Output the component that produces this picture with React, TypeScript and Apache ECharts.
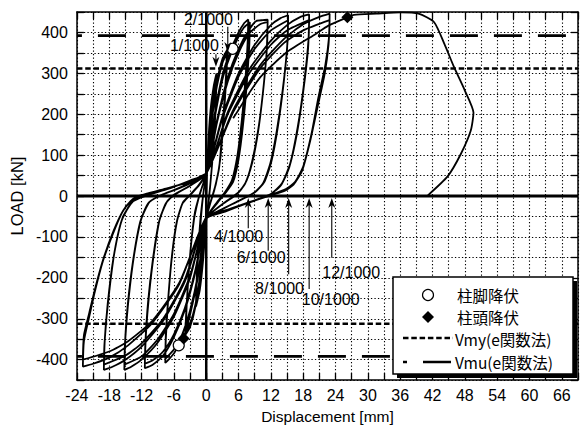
import React, { useEffect, useRef } from "react";
import * as echarts from "echarts";

// Axis ranges (mm, kN)
const X_MIN = -24;
const X_MAX = 69;
const Y_MIN = -450;
const Y_MAX = 450;

// Reference strengths
const vmy = 312;
const vmu = 392;

// Hysteresis cycles [displacement mm, load kN]
const cycle1_1000: number[][] = [
  [0, 0], [0.3, 110], [0.8, 210], [1.4, 270], [1.9, 300], [1.8, 240], [1.3, 120], [0.7, 20], [0, -60],
  [-0.6, -160], [-1.2, -230], [-1.9, -270], [-1.8, -210], [-1.2, -90], [-0.6, 0], [0, 55],
  [0.7, 180], [1.4, 260], [1.9, 290], [1.7, 200], [1.1, 80], [0.4, -20], [0, -55],
  [-0.7, -170], [-1.4, -240], [-1.9, -265], [-1.7, -180], [-1.1, -60], [-0.5, 10], [0, 55],
];
const cycle2_1000: number[][] = [
  [1, 190], [2, 280], [3, 335], [3.9, 358], [3.8, 310], [3.3, 200], [2.6, 90], [1.8, 30], [0.9, -10], [0, -55],
  [-1, -185], [-2, -270], [-3, -320], [-3.9, -340], [-3.7, -280], [-3.1, -160], [-2.3, -60], [-1.5, -10], [-0.7, 25], [0, 55],
  [1, 180], [2, 270], [3, 325], [3.8, 348], [3.7, 300], [3.1, 180], [2.4, 70], [1.5, 15], [0.7, -20], [0, -55],
  [-1, -180], [-2, -265], [-3, -312], [-3.8, -332], [-3.6, -260], [-2.9, -130], [-2.1, -40], [-1.2, 5], [0, 55],
];
const cycle4_1000: number[][] = [
  [1.5, 195], [3, 295], [4.5, 355], [6, 400], [7, 422], [7.8, 432], [7.7, 380], [7.3, 290], [6.6, 185], [5.8, 100],
  [4.8, 40], [3.5, 10], [2, -15], [0, -55], [-1.5, -195], [-3, -290], [-4.2, -345], [-5.1, -365], [-6, -385],
  [-7, -400], [-7.6, -408], [-7.5, -350], [-7.1, -260], [-6.4, -150], [-5.5, -65], [-4.4, -18], [-3, 3], [-1.5, 25], [0, 55],
  [1.5, 185], [3, 285], [4.5, 345], [6, 390], [7, 412], [8.1, 425], [8, 370], [7.5, 270], [6.8, 170], [6, 90],
  [5, 35], [3.6, 8], [2, -18], [0, -55], [-1.5, -190], [-3, -280], [-4.5, -340], [-6, -375], [-7.6, -398],
  [-7.5, -340], [-7, -240], [-6.3, -140], [-5.4, -60], [-4.3, -15], [-2.8, 5], [-1.4, 25], [0, 55],
];
const cycle6_1000: number[][] = [
  [2, 185], [4, 290], [6, 360], [8, 408], [9.3, 428], [10.5, 430], [11.4, 431], [11.3, 370], [10.7, 275], [9.8, 175],
  [8.7, 95], [7.5, 38], [6.1, 10], [4, -10], [2, -30], [0, -55], [-2, -185], [-4, -280], [-6, -345], [-8, -390],
  [-10, -413], [-11.4, -421], [-11.3, -360], [-10.8, -260], [-9.9, -155], [-8.8, -65], [-7.5, -18], [-6, 3], [-3, 25], [0, 55],
  [2, 180], [4, 280], [6, 350], [8, 398], [10, 420], [11.4, 425], [11.2, 350], [10.5, 250], [9.6, 155], [8.5, 80],
  [7.2, 30], [5.7, 5], [3, -20], [0, -55], [-2, -180], [-4, -275], [-6, -338], [-8, -380], [-10, -402], [-11.4, -410],
  [-11.2, -340], [-10.6, -240], [-9.7, -140], [-8.6, -55], [-7.2, -12], [-5.6, 5], [-2.8, 27], [0, 55],
];
const cycle8_1000: number[][] = [
  [3, 195], [6, 300], [9, 370], [12, 418], [13.8, 435], [15.2, 442], [15.1, 380], [14.4, 280], [13.3, 170], [12.1, 85],
  [10.8, 35], [9.1, 10], [6, -12], [3, -32], [0, -55], [-3, -200], [-6, -295], [-9, -358], [-12, -400], [-14, -418],
  [-15.2, -425], [-15.1, -365], [-14.6, -270], [-13.6, -160], [-12.3, -65], [-10.8, -18], [-8.7, 0], [-5, 20], [-2, 40], [0, 55],
  [3, 190], [6, 292], [9, 360], [12, 405], [15.2, 430], [15, 360], [14.2, 260], [13.1, 160], [11.9, 80], [10.5, 30],
  [8.7, 6], [5.5, -15], [2.5, -35], [0, -55], [-3, -195], [-6, -288], [-9, -350], [-12, -392], [-15.2, -412],
  [-15, -345], [-14.4, -250], [-13.4, -145], [-12.1, -58], [-10.5, -14], [-8.4, 2], [-4.5, 22], [0, 55],
];
const cycle10_1000: number[][] = [
  [4, 205], [8, 310], [12, 380], [15, 418], [17.5, 438], [19.1, 444], [19, 385], [18.2, 280], [17, 170], [15.6, 80],
  [14, 30], [12, 5], [8, -15], [4, -35], [0, -55], [-4, -210], [-8, -305], [-12, -368], [-15, -400], [-17.5, -418],
  [-19, -425], [-18.9, -365], [-18.3, -265], [-17.2, -150], [-15.7, -60], [-13.8, -15], [-11.4, 0], [-7, 18], [-3, 38], [0, 55],
  [4, 200], [8, 300], [12, 370], [15, 405], [19.1, 430], [18.9, 360], [18, 255], [16.8, 150], [15.4, 70], [13.8, 25],
  [11.6, 2], [7.5, -18], [3.5, -38], [0, -55], [-4, -205], [-8, -300], [-12, -360], [-15, -390], [-19, -412],
  [-18.8, -345], [-18.1, -245], [-17, -135], [-15.5, -52], [-13.5, -12], [-11, 2], [-6.5, 20], [-3, 38], [0, 55],
];
const cycle12_1000: number[][] = [
  [5, 210], [10, 320], [14.5, 385], [18, 420], [21, 438], [22.9, 446], [22.8, 390], [22.1, 320], [20.8, 240], [19.5, 150],
  [18, 72], [16.5, 35], [14.8, 17], [12, 3], [8, -15], [4, -33], [0, -52], [-5, -215], [-10, -310], [-14.5, -365],
  [-18, -395], [-21, -410], [-22.9, -417], [-22.7, -355], [-21.8, -300], [-20.7, -235], [-19.2, -160], [-17.4, -95],
  [-15.6, -40], [-14, -12], [-12.5, 0], [-8, 16], [-3, 35], [0, 55],
  [5, 205], [10, 312], [14.5, 375], [18, 405], [22.9, 430], [22.7, 370], [22, 300], [20.7, 220], [19.3, 135], [17.8, 62],
  [16.2, 28], [14.4, 12], [11.5, 0], [7.5, -18], [3.5, -36], [0, -55], [-5, -212], [-10, -305], [-14.5, -355],
  [-18, -380], [-22.9, -400], [-22.7, -340], [-21.7, -285], [-20.5, -220], [-19, -150], [-17.2, -85], [-15.4, -35],
  [-13.7, -8], [-12, 2], [-7.5, 18], [-3, 36], [0, 55],
];
const finalPush: number[][] = [
  [5, 190], [10, 290], [15, 352], [20.4, 397], [22.6, 416], [26.2, 437], [27.4, 443], [31.6, 446], [36, 449],
  [39.4, 446], [42.3, 425], [44.2, 372], [46, 315], [48, 258], [49.6, 204], [49.1, 160], [47.3, 104], [44.8, 48], [41, 0],
];

// Yield markers
const footYield: number[][] = [[4.9, 360], [-5.1, -365]]; // 柱脚降伏
const headYield: number[][] = [[26.2, 437], [-4.2, -348]]; // 柱頭降伏

// Drift annotations (data coordinates)
const driftLabels = ["1/1000", "2/1000", "4/1000", "6/1000", "8/1000", "10/1000", "12/1000"];
const driftArrowX = [1.8, 4.0, 7.8, 11.5, 15.3, 19.1, 23.3];
const driftArrowTail = [347, 414, -79, -134, -191, -227, -151];
const driftArrowTip = [316, 352, -5, -5, -5, -5, -5];
const driftTextX = [-2.2, 0.4, 6.0, 10.2, 13.6, 23.1, 26.9];
const driftTextY = [367, 431, -99, -151, -225, -254, -188];

const legendNames = ["柱脚降伏", "柱頭降伏", "Vmy(e関数法)", "Vmu(e関数法)"];

const FONT = "'Liberation Sans', Arial, sans-serif";
const CJK = "'Noto Sans CJK JP', 'Noto Sans', sans-serif";

export default function App() {
  const ref = useRef<HTMLDivElement>(null);

  useEffect(() => {
    if (!ref.current) return;
    const chart = echarts.init(ref.current, null, { renderer: "svg" });

    const hysteresis = ([] as number[][]).concat(
      cycle1_1000, cycle2_1000, cycle4_1000, cycle6_1000, cycle8_1000, cycle10_1000, cycle12_1000
    );

    const baseAxisTick = { show: true, inside: true, length: 7, lineStyle: { color: "#000", width: 1.3 } };
    const baseAxisLine = { show: true, onZero: false, lineStyle: { color: "#000", width: 1.5 } };
    const grid = { show: true, lineStyle: { color: "#000", type: [1.3, 2.2] as any, width: 1.1 } };

    const lineSeries = (name: string, data: number[][], style: any, z = 2) => ({
      name,
      type: "line",
      data,
      symbol: "none",
      silent: true,
      z,
      lineStyle: style,
    });

    chart.setOption({
      animation: false,
      backgroundColor: "#fff",
      grid: { left: 72, top: 12, width: 511.5, height: 376 },
      xAxis: [
        {
          type: "value",
          min: X_MIN,
          max: X_MAX,
          interval: 3,
          position: "bottom",
          axisLine: baseAxisLine,
          axisTick: baseAxisTick,
          splitLine: grid,
          axisLabel: {
            color: "#000",
            fontSize: 16,
            fontFamily: FONT,
            margin: 7,
            formatter: (v: number) => (v % 6 === 0 ? String(v) : ""),
          },
          name: "Displacement [mm]",
          nameLocation: "middle",
          nameGap: 24,
          nameTextStyle: { color: "#000", fontSize: 15.5, fontFamily: FONT },
        },
        {
          type: "value",
          min: X_MIN,
          max: X_MAX,
          interval: 3,
          position: "top",
          axisLine: baseAxisLine,
          axisTick: baseAxisTick,
          axisLabel: { show: false },
          splitLine: { show: false },
        },
      ],
      yAxis: [
        {
          type: "value",
          min: Y_MIN,
          max: Y_MAX,
          interval: 50,
          position: "left",
          axisLine: baseAxisLine,
          axisTick: baseAxisTick,
          splitLine: grid,
          axisLabel: {
            color: "#000",
            fontSize: 16,
            fontFamily: FONT,
            margin: 9,
            formatter: (v: number) => (v % 100 === 0 && Math.abs(v) < 450 ? String(v) : ""),
          },
          name: "LOAD [kN]",
          nameLocation: "middle",
          nameGap: 46,
          nameTextStyle: { color: "#000", fontSize: 16.5, fontFamily: FONT },
        },
        {
          type: "value",
          min: Y_MIN,
          max: Y_MAX,
          interval: 50,
          position: "right",
          axisLine: baseAxisLine,
          axisTick: baseAxisTick,
          axisLabel: { show: false },
          splitLine: { show: false },
        },
      ],
      series: [
        lineSeries("x0", [[0, Y_MIN], [0, Y_MAX]], { color: "#000", width: 2.5 }, 3),
        lineSeries("y0", [[X_MIN, 0], [X_MAX, 0]], { color: "#000", width: 3 }, 3),
        lineSeries("Vmu+", [[X_MIN, vmu], [X_MAX, vmu]], { color: "#000", width: 2.7, type: [28, 16], dashOffset: 23 }, 3),
        lineSeries("Vmu-", [[X_MIN, -vmu], [X_MAX, -vmu]], { color: "#000", width: 2.7, type: [28, 16], dashOffset: 23 }, 3),
        lineSeries("Vmy+", [[X_MIN, vmy], [X_MAX, vmy]], { color: "#000", width: 2.5, type: [5.5, 2.8] }, 3),
        lineSeries("Vmy-", [[X_MIN, -vmy], [X_MAX, -vmy]], { color: "#000", width: 2.5, type: [5.5, 2.8] }, 3),
        { ...lineSeries("hysteresis", hysteresis, { color: "#000", width: 1.8 }, 4), smooth: 0.2 },
        { ...lineSeries("final", finalPush, { color: "#000", width: 1.8 }, 4), smooth: 0.2 },
        {
          name: legendNames[0],
          type: "scatter",
          data: footYield,
          symbol: "circle",
          symbolSize: 11,
          z: 6,
          silent: true,
          itemStyle: { color: "#fff", borderColor: "#000", borderWidth: 1.2, opacity: 1 },
        },
        {
          name: legendNames[1],
          type: "scatter",
          data: headYield,
          symbol: "diamond",
          symbolSize: 12,
          z: 6,
          silent: true,
          itemStyle: { color: "#000", opacity: 1 },
        },
      ],
    });

    const toPx = (p: number[]) => chart.convertToPixel({ xAxisIndex: 0, yAxisIndex: 0 }, p) as number[];
    const graphics: any[] = [];
    driftLabels.forEach((lbl, i) => {
      const tail = toPx([driftArrowX[i], driftArrowTail[i]]);
      const tip = toPx([driftArrowX[i], driftArrowTip[i]]);
      const up = tip[1] < tail[1];
      const s = up ? 1 : -1;
      const x = tip[0];
      const ty = tip[1];
      graphics.push({
        type: "line",
        z: 20,
        shape: { x1: x, y1: tail[1], x2: x, y2: ty + s * 6 },
        style: { stroke: "#000", lineWidth: 1.1 },
      });
      graphics.push({
        type: "polygon",
        z: 20,
        shape: { points: [[x, ty], [x - 3.5, ty + s * 10], [x, ty + s * 7], [x + 3.5, ty + s * 10]] },
        style: { fill: "#000" },
      });
      const t = toPx([driftTextX[i], driftTextY[i]]);
      graphics.push({
        type: "text",
        z: 21,
        x: t[0],
        y: t[1],
        style: {
          text: lbl,
          fill: "#000",
          fontSize: 16,
          fontFamily: FONT,
          align: "center",
          verticalAlign: "middle",
        },
      });
    });

    // Legend box
    const lx = 393, ly = 277, lw = 180, lh = 97;
    graphics.push({ type: "rect", z: 30, shape: { x: lx + 4, y: ly + 4, width: lw, height: lh }, style: { fill: "#000" } });
    graphics.push({ type: "rect", z: 31, shape: { x: lx, y: ly, width: lw, height: lh }, style: { fill: "#fff", stroke: "#000", lineWidth: 1.5 } });
    graphics.push({ type: "circle", z: 32, shape: { cx: 428, cy: 295, r: 5.5 }, style: { fill: "#fff", stroke: "#000", lineWidth: 1.2 } });
    graphics.push({ type: "polygon", z: 32, shape: { points: [[428, 311], [434, 317], [428, 323], [422, 317]] }, style: { fill: "#000" } });
    graphics.push({ type: "line", z: 32, shape: { x1: 403, y1: 338, x2: 453, y2: 338 }, style: { stroke: "#000", lineWidth: 2.5, lineDash: [5.5, 2.8] } });
    graphics.push({ type: "line", z: 32, shape: { x1: 403, y1: 362, x2: 452, y2: 362 }, style: { stroke: "#000", lineWidth: 2.5, lineDash: [28, 16], lineDashOffset: 24 } });
    const legendY = [295, 317, 339, 362];
    const legendX = [457, 457, 455, 455];
    legendNames.forEach((n, i) => {
      graphics.push({
        type: "text",
        z: 33,
        x: legendX[i],
        y: legendY[i],
        style: { text: n, fill: "#000", fontSize: 15.5, lineHeight: 18, fontFamily: CJK, align: "left", verticalAlign: "middle" },
      });
    });

    chart.setOption({ graphic: graphics });

    return () => chart.dispose();
  }, []);

  return (
    <div
      ref={ref}
      style={{ position: "fixed", left: 0, top: 0, width: 581, height: 429, background: "#fff" }}
    />
  );
}
